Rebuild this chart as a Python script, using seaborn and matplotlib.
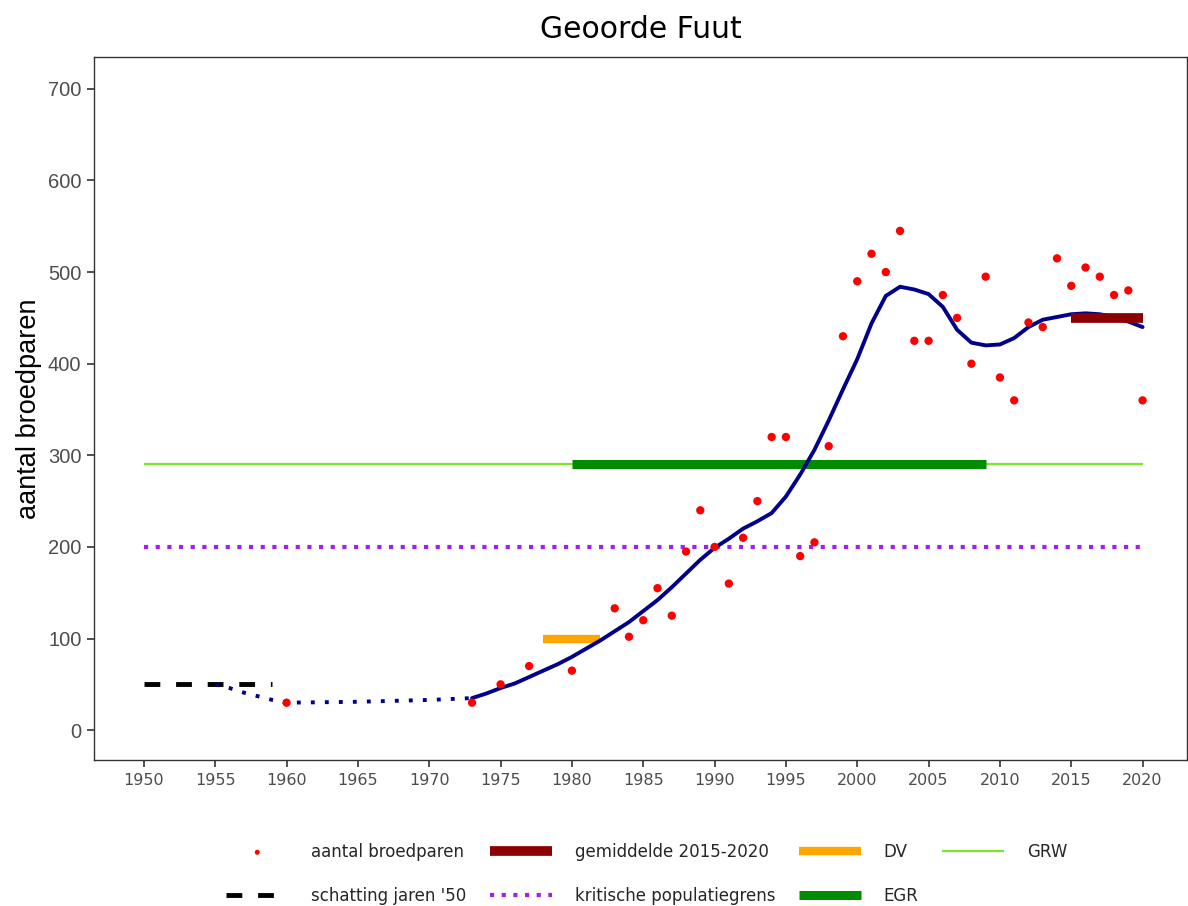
import matplotlib
matplotlib.use("Agg")
import numpy as np
import pandas as pd
import matplotlib.pyplot as plt
import seaborn as sns

# observed breeding pairs
obs_years = [1960, 1973, 1975, 1977, 1980, 1983, 1984, 1985, 1986, 1987, 1988, 1989,
             1990, 1991, 1992, 1993, 1994, 1995, 1996, 1997, 1998, 1999, 2000, 2001,
             2002, 2003, 2004, 2005, 2006, 2007, 2008, 2009, 2010, 2011, 2012, 2013,
             2014, 2015, 2016, 2017, 2018, 2019, 2020]
obs_pairs = [30, 30, 50, 70, 65, 133, 102, 120, 155, 125, 195, 240,
             200, 160, 210, 250, 320, 320, 190, 205, 310, 430, 490, 520,
             500, 545, 425, 425, 475, 450, 400, 495, 385, 360, 445, 440,
             515, 485, 505, 495, 475, 480, 360]

# smoothed trend
trend_years = list(range(1973, 2021))
trend_vals = [35, 40, 46, 51, 58, 65, 72, 80, 89, 98, 108, 118, 130, 142, 156, 171,
              186, 199, 209, 220, 228, 237, 255, 279, 306, 338, 372, 405, 444, 474,
              484, 481, 476, 462, 437, 423, 420, 421, 428, 440, 448, 451, 454, 455,
              454, 451, 446, 440]

# interpolated (dotted) part
interp_years = [1955, 1956, 1957, 1958, 1959, 1960, 1965, 1970, 1973]
interp_vals = [50, 46, 41, 37, 33, 30, 31, 33, 35]

# estimate for the fifties
est_years = [1950, 1959]
est_vals = [50, 50]

# reference levels
grw_years, grw_val = [1950, 2020], 290
krit_years, krit_val = [1950, 2020], 200
egr_years, egr_val = [1980, 2009], 290
dv_years, dv_val = [1978, 1982], 100
gem_years, gem_val = [2015, 2020], 450

sns.set_style("white")
plt.rcParams["font.family"] = ["DejaVu Sans"]

fig = plt.figure(figsize=(11.88, 9.06), dpi=100)
ax = fig.add_axes([0.0791, 0.161, 0.9199, 0.776])

butt = dict(solid_capstyle="butt", dash_capstyle="butt")
sns.lineplot(x=grw_years, y=[grw_val] * 2, ax=ax, color="#7fe52a", lw=1.6, label="GRW", **butt)
sns.lineplot(x=krit_years, y=[krit_val] * 2, ax=ax, color="#a020f0", lw=3.0,
             label="kritische populatiegrens", **butt).lines[-1].set_dashes((1, 1.8))
sns.lineplot(x=egr_years, y=[egr_val] * 2, ax=ax, color="#008b00", lw=6.5, label="EGR", **butt)
sns.lineplot(x=dv_years, y=[dv_val] * 2, ax=ax, color="#ffa500", lw=6, label="DV", **butt)
sns.lineplot(x=est_years, y=est_vals, ax=ax, color="black", lw=3.5,
             label="schatting jaren '50", **butt).lines[-1].set_dashes((3.25, 3.25))
sns.lineplot(x=interp_years, y=interp_vals, ax=ax, color="#00008b", lw=2.8,
             **butt).lines[-1].set_dashes((1, 2.6))
sns.lineplot(x=trend_years, y=trend_vals, ax=ax, color="#00008b", lw=2.8)
sns.lineplot(x=gem_years, y=[gem_val] * 2, ax=ax, color="#8b0000", lw=7,
             label="gemiddelde 2015-2020", **butt)
sns.scatterplot(x=obs_years, y=obs_pairs, ax=ax, color="red", s=36, edgecolor="none",
                label="aantal broedparen", zorder=5)

ax.set_xlim(1946.5, 2023.1)
ax.set_ylim(-32.7, 734.7)
ax.set_xticks(range(1950, 2021, 5))
ax.set_yticks(range(0, 701, 100))
ax.tick_params(axis="x", labelsize=11.5, colors="#333333", labelcolor="#4d4d4d",
               length=5, width=1.2, bottom=True, pad=4)
ax.tick_params(axis="y", labelsize=14.5, colors="#333333", labelcolor="#4d4d4d",
               length=5, width=1.2, left=True, pad=4)
for lab in ax.get_yticklabels():
    lab.set_family("Liberation Sans")
for sp in ax.spines.values():
    sp.set_color("#333333")
    sp.set_linewidth(1.0)

ax.set_xlabel("")
ax.set_ylabel("aantal broedparen", fontsize=19.5, family="Liberation Sans",
              color="black", labelpad=4)
ax.set_title("Geoorde Fuut", fontsize=21.5, color="black", pad=14)

handles, labels = ax.get_legend_handles_labels()
hmap = dict(zip(labels, handles))
order = ["aantal broedparen", "schatting jaren '50", "gemiddelde 2015-2020",
         "kritische populatiegrens", "DV", "EGR", "GRW"]
ax.legend([hmap[k] for k in order], order, ncol=4, loc="upper center",
          bbox_to_anchor=(0.506, -0.096), frameon=False,
          prop={"family": "DejaVu Sans", "size": 12},
          handlelength=3.7, handletextpad=1.4, columnspacing=1.4, labelspacing=1.6,
          markerscale=0.6)

fig.savefig("out.png", dpi=100)
